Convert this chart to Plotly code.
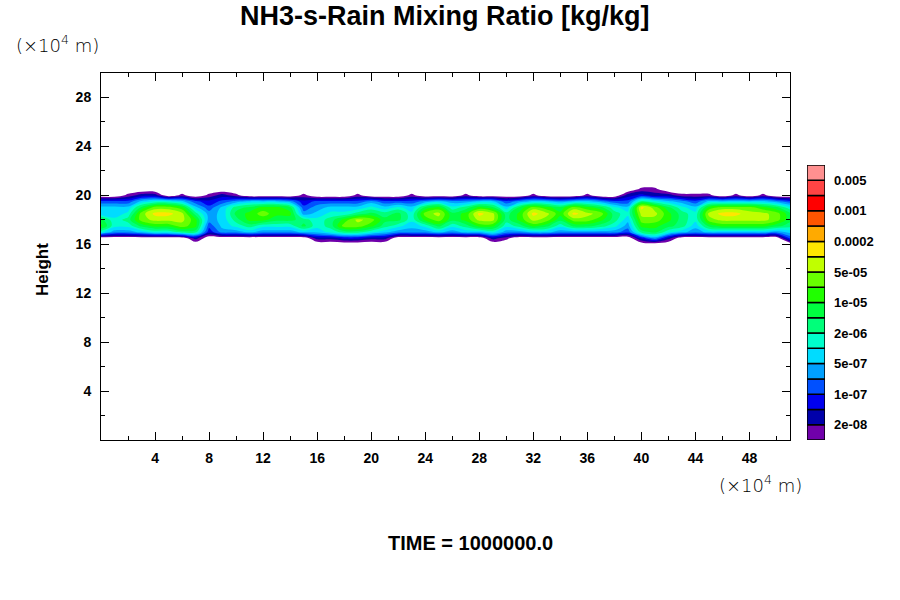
import numpy as np
import plotly.graph_objects as go

# grid of the field: horizontal position and height, both in 10^4 m
x_pos = list(range(52))
heights = [16.0, 16.5, 17.0, 17.5, 18.0, 18.5, 19.0, 19.5, 20.0, 20.5, 21.0]

# log10 of the NH3-s-rain mixing ratio [kg/kg], one list per height
E = -9.0  # no rain
logq_160 = [E] * 52
logq_165 = [E, E, E, E, E, E, E, -7.5, E, E, E, E, E, E, E, E,
            -7.5, -7.5, -7.2, -7.2, -7.5, -7.5, E, E, E, E, E, E, E, -7.5, -7.9,
            E, E, E, E, E, E, E, E, E, -7.2, -6.5, -7.5, E, E, E, E, E, E, E, E, -6.9]
logq_170 = [-5.9, -6.5, -6.5, -6.2, -5.9, -5.9, -5.5, -5.5, -7.2, -6.5,
            -6.5, -6.2, -6.5, -6.5, -6.5, -6.2, -6.2, -5.9, -5.5, -5.5,
            -5.9, -6.2, -6.5, -6.5, -6.5, -6.2, -6.5, -6.2, -6.2, -5.9,
            -6.5, -6.5, -6.2, -6.2, -6.5, -6.5, -6.5, -6.5, -6.5, -6.9,
            -5.5, -5.2, -5.9, -6.2, -6.5, -6.2, -6.2, -6.2, -6.2, -6.2, -6.5, -6.2]
logq_175 = [-4.9, -5.9, -5.9, -5.2, -4.9, -4.9, -4.5, -4.9, -6.9, -6.2,
            -5.9, -5.5, -5.9, -5.9, -5.9, -5.2, -5.9, -5.5, -4.5, -4.5,
            -4.9, -5.5, -5.9, -6.2, -5.9, -5.2, -5.9, -5.5, -4.9, -4.9,
            -5.9, -5.5, -4.9, -5.2, -5.9, -5.2, -5.2, -5.5, -5.9, -6.5,
            -4.9, -4.9, -5.2, -5.5, -6.2, -5.2, -4.9, -4.9, -4.9, -4.9, -5.2, -5.5]
logq_180 = [-5.2, -5.9, -5.5, -4.5, -4.2, -4.2, -4.2, -4.9, -6.5, -6.2,
            -5.5, -4.9, -4.9, -5.2, -5.2, -5.5, -5.9, -5.5, -4.9, -4.2,
            -4.5, -5.2, -5.2, -5.9, -4.9, -4.5, -5.2, -4.9, -4.2, -4.2,
            -5.5, -4.9, -4.2, -4.5, -5.2, -4.5, -4.5, -4.9, -5.5, -6.2,
            -4.5, -4.5, -4.9, -5.5, -5.9, -4.5, -4.2, -4.2, -4.2, -4.2, -4.5, -5.2]
logq_185 = [-6.2, -6.2, -5.9, -4.5, -3.9, -3.9, -4.2, -5.5, -6.5, -6.2,
            -5.2, -4.9, -4.5, -4.9, -4.9, -6.5, -6.2, -5.9, -5.9, -5.5,
            -5.2, -5.5, -5.2, -5.9, -4.5, -4.2, -5.2, -4.9, -3.9, -4.2,
            -5.5, -4.9, -3.9, -4.2, -4.9, -3.9, -4.2, -4.5, -5.5, -5.9,
            -4.2, -4.2, -4.9, -5.5, -5.9, -4.2, -3.9, -3.9, -4.2, -4.2, -4.5, -5.2]
logq_190 = [-6.2, -6.2, -6.2, -5.2, -4.5, -4.5, -4.9, -6.2, -6.9, -6.2,
            -5.5, -5.2, -4.9, -4.9, -5.2, -6.9, -6.5, -6.2, -6.2, -6.2,
            -5.9, -6.2, -5.9, -6.2, -5.2, -4.9, -5.9, -5.5, -4.9, -5.2,
            -6.2, -5.2, -4.5, -4.9, -5.2, -4.5, -4.9, -5.2, -5.9, -6.2,
            -3.9, -4.5, -5.2, -5.9, -6.2, -4.9, -4.5, -4.5, -4.5, -4.9, -5.2, -5.9]
logq_195 = [-6.9, -6.9, -6.9, -6.2, -5.9, -5.9, -6.2, -6.9, -7.2, -6.9,
            -6.5, -6.2, -6.2, -6.2, -6.5, -7.2, -6.9, -6.9, -6.9, -6.9,
            -6.5, -6.9, -6.9, -6.9, -6.5, -6.2, -6.5, -6.5, -6.2, -6.2,
            -6.9, -6.5, -6.2, -6.2, -6.5, -6.2, -6.2, -6.5, -6.9, -6.9,
            -5.5, -5.9, -6.2, -6.5, -6.9, -6.2, -6.2, -6.2, -6.2, -6.2, -6.5, -6.9]
logq_200 = [E, E, -7.9, -7.5, -7.5, E, -7.9, E, -7.9, -7.5,
            -7.9, E, E, E, E, -7.9, E, E, E, -7.9,
            E, E, E, -7.9, E, E, E, -7.9, E, E,
            E, E, -7.9, E, E, E, -7.9, E, E, -7.5,
            -7.2, -7.5, -7.5, -7.9, -7.9, -7.9, E, -7.9, E, -7.9, E, E]
logq_205 = [E] * 40 + [-7.9, -7.9] + [E] * 10
logq_210 = [E] * 52

# contour levels [kg/kg] and their fill colours (bottom to top)
levels = [1e-8, 2e-8, 5e-8, 1e-7, 2e-7, 5e-7, 1e-6, 2e-6, 5e-6,
          1e-5, 2e-5, 5e-5, 1e-4, 2e-4, 5e-4, 1e-3, 2e-3, 5e-3]
level_colors = ["#7000aa", "#0000aa", "#0000ee", "#0050ff", "#00a0ff", "#00dcff",
                "#00ffcc", "#00ff7a", "#00ff40", "#20ff00", "#68ff00", "#c0ff00",
                "#ffe600", "#ffaa00", "#ff5500", "#ff0000", "#ff4444", "#ff9090"]
labelled = [1, 3, 5, 7, 9, 11, 13, 15, 17]

logq = np.array([logq_160, logq_165, logq_170, logq_175, logq_180, logq_185,
                 logq_190, logq_195, logq_200, logq_205, logq_210])

# put the (unevenly spaced) levels on an even index scale so plotly can contour them
xp = [E] + list(np.log10(levels))
fp = [-0.5] + [i + 0.5 for i in range(len(levels))]
band = np.interp(logq, xp, fp)

nb = len(levels)
cscale = []
for k, c in enumerate(["#ffffff"] + level_colors):
    cscale.append([max(0.0, (k - 0.5) / nb), c])
    cscale.append([min(1.0, (k + 0.5) / nb), c])

fig = go.Figure()
fig.add_trace(go.Contour(
    x=x_pos, y=heights, z=band,
    contours=dict(start=0.5, end=nb - 0.5, size=1, coloring="fill", showlines=False),
    colorscale=cscale, showscale=False, line=dict(width=0, smoothing=1),
    hoverinfo="skip",
))

# colour key drawn as a column of boxes
fig.add_trace(go.Bar(
    x=[0] * nb, y=[1] * nb, base=list(range(nb)), width=1,
    marker=dict(color=level_colors, line=dict(color="black", width=1.5)),
    xaxis="x2", yaxis="y2", hoverinfo="skip", showlegend=False,
))

W, H = 900, 600


def px_x(p):
    return p / W


def px_y(p):
    return 1 - p / H


tickfont = dict(family="Liberation Sans", size=14, color="black", weight="bold")
axis_common = dict(
    showline=True, linecolor="black", linewidth=1, mirror="ticks",
    ticks="inside", ticklen=8, tickcolor="black", showgrid=False, zeroline=False,
    tickfont=tickfont,
    minor=dict(dtick=2, ticks="inside", ticklen=4, tickcolor="black", showgrid=False),
)

fig.update_layout(
    width=W, height=H, autosize=False,
    margin=dict(l=0, r=0, t=0, b=0),
    paper_bgcolor="white", plot_bgcolor="white",
    barmode="overlay", showlegend=False,
    xaxis=dict(domain=[px_x(101), px_x(790)], range=[0, 51],
               tickvals=[4, 8, 12, 16, 20, 24, 28, 32, 36, 40, 44, 48],
               ticklabelstandoff=5, **axis_common),
    yaxis=dict(domain=[px_y(440), px_y(73)], range=[0, 30],
               tickvals=[4, 8, 12, 16, 20, 24, 28], ticklabelstandoff=6, **axis_common),
    xaxis2=dict(domain=[px_x(807), px_x(825)], range=[-0.5, 0.5], anchor="y2",
                showticklabels=False, showgrid=False, zeroline=False, fixedrange=True),
    yaxis2=dict(domain=[px_y(440), px_y(165)], range=[0, nb], anchor="x2",
                side="right", tickvals=labelled,
                ticktext=[f"{levels[i]:g}" for i in labelled],
                ticks="", showgrid=False, zeroline=False, ticklabelstandoff=8,
                tickfont=dict(family="Liberation Sans", size=13, color="black", weight="bold")),
)

bold = dict(family="Liberation Sans", color="black", weight="bold")
thin = dict(family="DejaVu Sans", color="black", size=18, weight=300)


def label(text, x, y, font, **kw):
    fig.add_annotation(text=text, x=px_x(x), y=px_y(y), xref="paper", yref="paper",
                       xanchor=kw.pop("xanchor", "center"), yanchor="middle",
                       showarrow=False, font=font, **kw)


label("NH3-s-Rain Mixing Ratio [kg/kg]", 445, 16, dict(size=27, **bold))
label("(×10<sup>4</sup> m)", 14, 44, thin, xanchor="left")
label("(×10<sup>4</sup> m)", 804, 484, thin, xanchor="right")
label("Height", 42, 270, dict(size=17, **bold), textangle=-90)
label("TIME = 1000000.0", 470, 543, dict(size=20, **bold))

# drop the page's default body margin so the figure sits at the window's corner
fig.write_html("out.html", config={"displayModeBar": False},
               post_script="document.body.style.margin='0';")
